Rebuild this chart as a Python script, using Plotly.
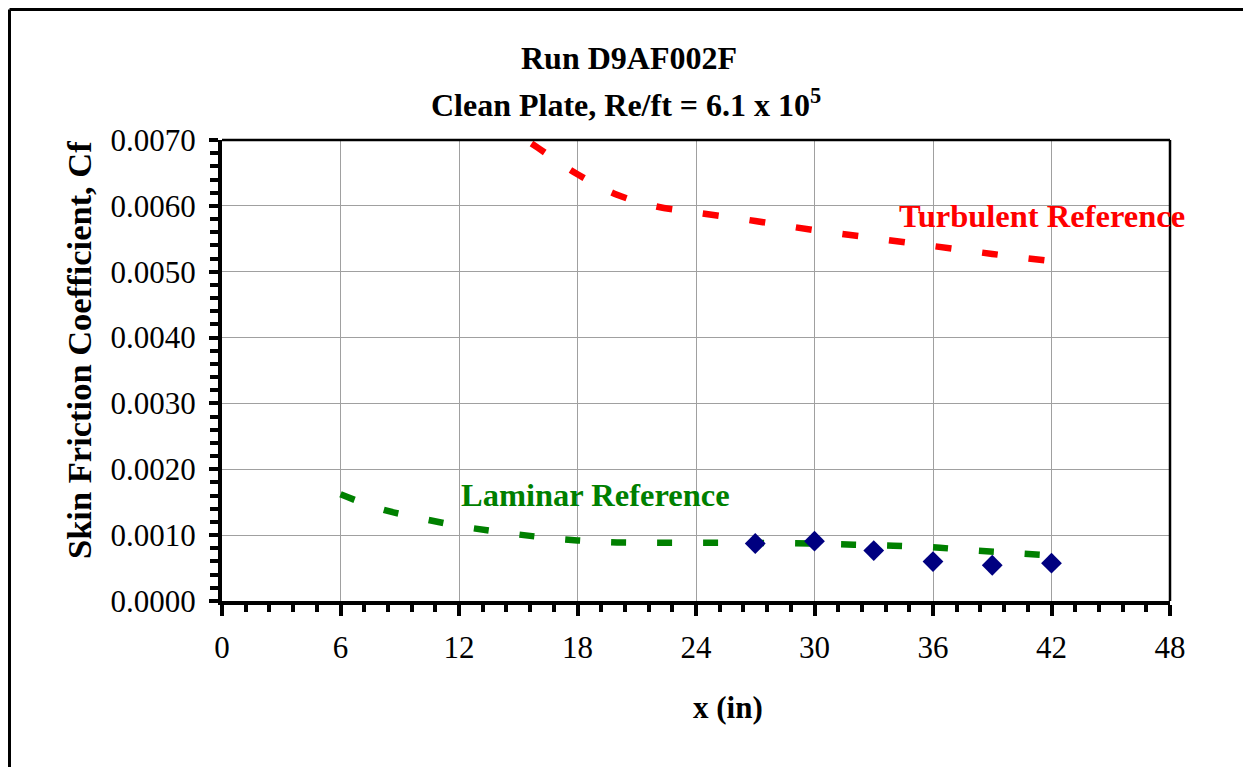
import plotly.graph_objects as go

# ---- data ----
turb_x = [12, 14, 16, 18, 20, 22, 24, 27, 30, 33, 36, 39, 42]
turb_cf = [0.00785, 0.00730, 0.00688, 0.00648, 0.00617, 0.00599, 0.00590,
           0.00577, 0.00563, 0.00551, 0.00539, 0.00527, 0.00516]

lam_x = [6, 8, 10, 12, 14, 16, 18, 20, 22, 24, 26, 28, 30, 32, 34, 36, 38, 40, 42]
lam_cf = [0.00162, 0.00140, 0.00126, 0.00114, 0.00105, 0.000975, 0.00092,
          0.00089, 0.000885, 0.000883, 0.000883, 0.00088, 0.00087, 0.000856,
          0.00084, 0.000815, 0.00077, 0.00073, 0.00069]

meas_x = [27, 30, 33, 36, 39, 42]
meas_cf = [0.000873, 0.000909, 0.000766, 0.000599, 0.000543, 0.000574]

x_ticks = [0, 6, 12, 18, 24, 30, 36, 42, 48]
y_ticks = [0.0, 0.001, 0.002, 0.003, 0.004, 0.005, 0.006, 0.007]

FONT = "Liberation Serif, Times New Roman, serif"

# page body margin offset (pixels)
OFF = 8
W, H = 1251 - OFF, 767 - OFF
L, R, T, B = 222 - OFF, 1170 - OFF, 140 - OFF, 601 - OFF


def px(xp):
    return (xp - OFF - L) / (R - L)


def py(yp):
    return (B - (yp - OFF)) / (B - T)


fig = go.Figure()

fig.add_trace(go.Scatter(
    x=turb_x, y=turb_cf, mode="lines", line_shape="spline",
    line=dict(color="#FF0000", width=6.5, dash="16px,31px"),
    showlegend=False, hoverinfo="skip"))

fig.add_trace(go.Scatter(
    x=lam_x, y=lam_cf, mode="lines", line_shape="spline",
    line=dict(color="#008000", width=6.5, dash="15px,31px"),
    showlegend=False, hoverinfo="skip"))

fig.add_trace(go.Scatter(
    x=meas_x, y=meas_cf, mode="markers",
    marker=dict(symbol="diamond", size=16, color="#000080",
                line=dict(width=0)),
    showlegend=False, cliponaxis=False))

axis_common = dict(
    showline=True, linecolor="black", linewidth=4,
    ticks="outside", tickcolor="black", tickwidth=4,
    showgrid=True, gridcolor="#A0A0A0", gridwidth=1,
    zeroline=False,
    tickfont=dict(family=FONT, size=31, color="black"),
)

fig.update_xaxes(
    range=[0, 48], tickmode="array", tickvals=x_ticks,
    ticktext=[str(v) for v in x_ticks], ticklen=11,
    ticklabelstandoff=5,
    minor=dict(dtick=1.2, ticks="outside", ticklen=7, tickwidth=4,
               tickcolor="black", showgrid=False),
    **axis_common)

fig.update_yaxes(
    range=[0, 0.007], tickmode="array", tickvals=y_ticks,
    ticktext=[f"{v:.4f}" for v in y_ticks], ticklen=9,
    ticklabelstandoff=7,
    minor=dict(dtick=0.0002, ticks="outside", ticklen=8, tickwidth=4,
               tickcolor="black", showgrid=False),
    **axis_common)

# outer chart border sits at the very edge of the figure
bx = -L / (R - L) + 1.5 / (R - L)
by = 1 + T / (B - T) - 1.5 / (B - T)

shapes = [
    # top and right border of plot area
    dict(type="line", xref="paper", yref="paper", x0=0, x1=1, y0=1, y1=1,
         line=dict(color="black", width=2.5)),
    dict(type="line", xref="paper", yref="paper", x0=1, x1=1, y0=0, y1=1,
         line=dict(color="black", width=2.5)),
    # outer chart border (top and left visible)
    dict(type="line", xref="paper", yref="paper", x0=bx, x1=px(1300),
         y0=by, y1=by, line=dict(color="black", width=3)),
    dict(type="line", xref="paper", yref="paper", x0=bx, x1=bx,
         y0=by, y1=py(800), line=dict(color="black", width=3)),
]

annotations = [
    dict(text="<b>Run D9AF002F</b>", xref="paper", yref="paper",
         x=px(629), y=py(58), showarrow=False,
         font=dict(family=FONT, size=32, color="black"),
         xanchor="center", yanchor="middle"),
    dict(text="<b>Clean Plate, Re/ft = 6.1 x 10<sup>5</sup></b>",
         xref="paper", yref="paper",
         x=px(626), y=py(103), showarrow=False,
         font=dict(family=FONT, size=32, color="black"),
         xanchor="center", yanchor="middle"),
    dict(text="<b>x (in)</b>", xref="paper", yref="paper",
         x=px(728), y=py(707), showarrow=False,
         font=dict(family=FONT, size=31, color="black"),
         xanchor="center", yanchor="middle"),
    dict(text="<b>Skin Friction Coefficient, Cf</b>", xref="paper",
         yref="paper", x=px(79), y=py(350), showarrow=False, textangle=-90,
         font=dict(family=FONT, size=34.5, color="black"),
         xanchor="center", yanchor="middle"),
    dict(text="<b>Turbulent Reference</b>", xref="paper", yref="paper",
         x=px(1042), y=py(216), showarrow=False,
         font=dict(family=FONT, size=32.5, color="#FF0000"),
         xanchor="center", yanchor="middle"),
    dict(text="<b>Laminar Reference</b>", xref="paper", yref="paper",
         x=px(595), y=py(495), showarrow=False,
         font=dict(family=FONT, size=32.5, color="#008000"),
         xanchor="center", yanchor="middle"),
]

fig.update_layout(
    width=W, height=H,
    margin=dict(l=L, r=W - R, t=T, b=H - B, pad=0),
    paper_bgcolor="white", plot_bgcolor="white",
    shapes=shapes, annotations=annotations,
    font=dict(family=FONT, color="black"),
)

fig.write_html("out.html")
